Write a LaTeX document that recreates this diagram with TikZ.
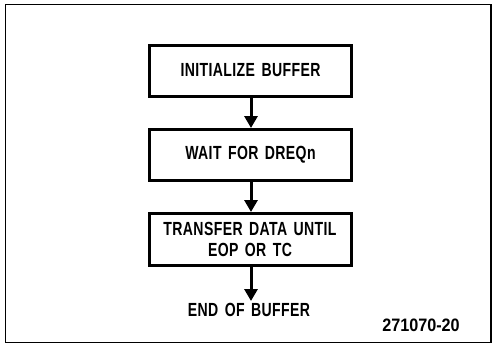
\documentclass[tikz,border=0pt]{standalone}
\usepackage{fontspec}
\usetikzlibrary{arrows.meta}
\newfontfamily\condfont[FakeStretch=0.74,LetterSpace=2,WordSpace=1.5]{Liberation Sans Bold}
\newfontfamily\numfont[FakeStretch=0.9]{Liberation Sans Bold}
\begin{document}
\begin{tikzpicture}[x=1pt,y=-1pt,
  stepbox/.style={draw,line width=3pt,minimum width=202pt,minimum height=51pt,
    inner sep=0pt,align=center,font=\condfont\fontsize{19}{20.5}\selectfont},
  flow/.style={line width=3pt,-{Triangle[width=13pt,length=12pt]}},
  lbl/.style={inner sep=0pt,font=\condfont\fontsize{19}{20.5}\selectfont}]
\useasboundingbox (0,0) rectangle (493,346);
\draw[line width=1.6pt] (5.5,4.5) rectangle (491,342.5);
\node[stepbox] (b1) at (250.5,70.5) {INITIALIZE BUFFER};
\node[stepbox] (b2) at (250.5,155) {WAIT FOR DREQn};
\node[stepbox,minimum height=52pt] (b3) at (250,239.5) {TRANSFER DATA UNTIL\\EOP OR TC};
\node[lbl] (end) at (249,310) {END OF BUFFER};
\node[inner sep=0pt,font=\numfont\fontsize{18}{20}\selectfont] (id) at (421,325) {271070-20};
\coordinate (e) at (251,301);
\draw[flow] (b1.south -| 251,0) -- (b2.north -| 251,0);
\draw[flow] (b2.south -| 251,0) -- (b3.north -| 251,0);
\draw[flow] (b3.south -| 251,0) -- (e);
\end{tikzpicture}
\end{document}
